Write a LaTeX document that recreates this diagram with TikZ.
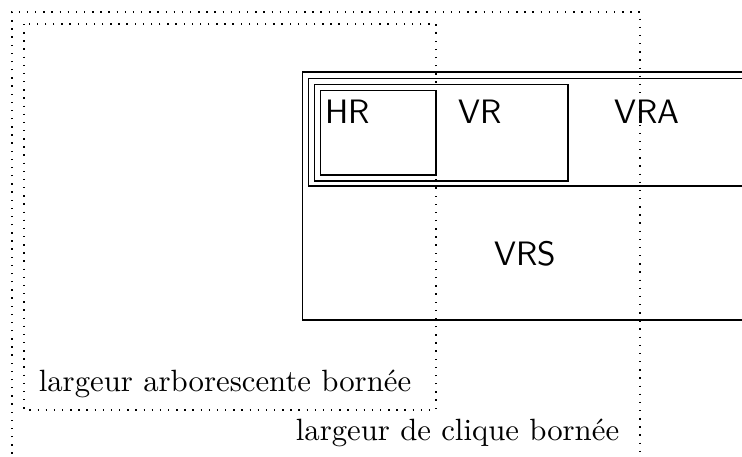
\documentclass[tikz,border=0pt]{standalone}

\begin{document}
\begin{tikzpicture}[x=0.325pt, y=-0.325pt, line width=0.35pt, cls/.style={font=\sffamily\fontsize{11}{13}\selectfont, anchor=base}, lbl/.style={font=\normalsize, anchor=base}, zone/.style={line width=0.45pt, dash pattern=on 0.45pt off 2.2pt}]
\useasboundingbox (0,0) rectangle (742,457);
\clip (0,0) rectangle (742,457);
% bounded width zones
\draw[zone] (12,470) -- (12,12) -- (640,12) -- (640,470);
\draw[zone] (24,24) rectangle (436,410);
% classes
\draw (302.5,72) rectangle (760,320);
\draw (308.5,78.5) rectangle (760,186);
\draw (314.5,84.5) rectangle (568,181);
\draw (320.5,90.5) rectangle (436,175);
\node[cls] (hr) at (348,123) {HR};
\node[cls] (vr) at (480,123) {VR};
\node[cls] (vra) at (647,123) {VRA};
\node[cls] (vrs) at (525,265) {VRS};
\node[lbl] (tw) at (225,391) {largeur arborescente born\'ee};
\node[lbl] (cw) at (457.5,440) {largeur de clique born\'ee};
\end{tikzpicture}
\end{document}
